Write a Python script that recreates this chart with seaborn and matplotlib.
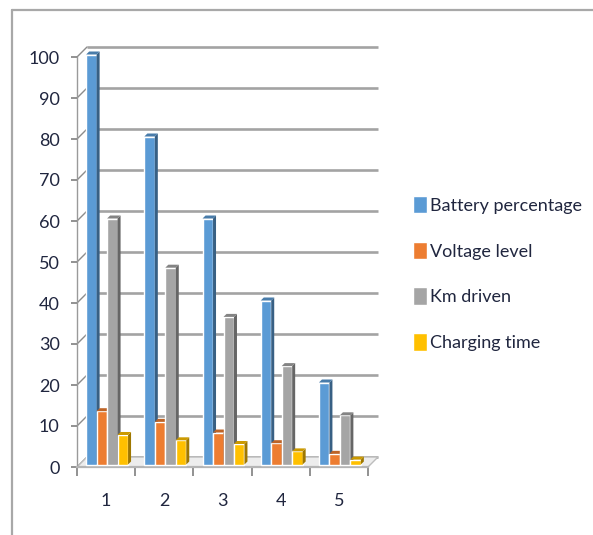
import matplotlib
matplotlib.use("Agg")
import matplotlib.pyplot as plt
import pandas as pd
import seaborn as sns
from matplotlib.colors import to_rgb
from matplotlib.lines import Line2D
from matplotlib.patches import Polygon
from matplotlib.transforms import Affine2D, IdentityTransform

categories = ["1", "2", "3", "4", "5"]
battery = [100, 80, 60, 40, 20]
voltage = [13, 10.4, 7.8, 5.2, 2.6]
km = [60, 48, 36, 24, 12]
charging = [7.2, 5.9, 5, 3.2, 1.2]
series_names = ["Battery percentage", "Voltage level", "Km driven", "Charging time"]
colors = ["#5B9BD5", "#ED7D31", "#A5A5A5", "#FFC000"]
yticks = list(range(0, 101, 10))

W, H = 593, 535
TEXT = "#20263F"
FS = 13
FONT = ["Lato", "DejaVu Sans"]
sns.set_style("white")
plt.rcParams["font.family"] = FONT

df = pd.DataFrame({
    "cat": categories * 4,
    "value": battery + voltage + km + charging,
    "series": [s for s in series_names for _ in categories],
})

fig = plt.figure(figsize=(W / 100, H / 100), dpi=100, facecolor="white")
ax = fig.add_axes([77 / W, 1 - 467 / H, (368 - 77) / W, (467 - 57) / H])
ax.patch.set_alpha(0)

sns.barplot(data=df, x="cat", y="value", hue="series", hue_order=series_names,
            palette=colors, width=0.72, gap=0, saturation=1, ax=ax, zorder=5)
ax.set_xlim(-0.5, 4.5)
ax.set_ylim(0, 100)
ax.set_xlabel("")
ax.set_ylabel("")

# 3-D look: back wall, floor and connecting lines are offsets of the axes scale
DX, DY = 10, 10
back = ax.get_yaxis_transform() + Affine2D().translate(DX, DY)
GRID = "#A3A3A3"
for v in yticks:
    ax.plot([0, 1], [v, v], transform=back, color=GRID, lw=1.9, zorder=1,
            clip_on=False, solid_capstyle="butt")
    p0 = ax.transData.transform((-0.5, v))
    ax.add_line(Line2D([p0[0], p0[0] + DX], [p0[1], p0[1] + DY], transform=IdentityTransform(),
                       color="#8C8C8C", lw=1.0, zorder=1, clip_on=False))

c0 = ax.transData.transform((-0.5, 0))
c1 = ax.transData.transform((4.5, 0))
ax.add_patch(Polygon([c0, c1, c1 + (DX, DY), c0 + (DX, DY)], closed=True, transform=IdentityTransform(),
                     facecolor="#EDEDED", edgecolor="#BDBDBD", lw=1.0, zorder=2, clip_on=False))

# bars stand on the floor: shift them and extrude a side and a top face
SHIFT = (1, 2.5)
SIDE = 3
shift_tr = ax.transData + Affine2D().translate(*SHIFT)
for i, container in enumerate(ax.containers):
    base = to_rgb(colors[i])
    dark = tuple(c * 0.62 for c in base)
    top = tuple(c * 0.8 for c in base)
    for bar in container:
        x0, y0 = bar.get_x(), bar.get_y()
        (px0, py0), (px1, py1) = shift_tr.transform([(x0, y0), (x0 + bar.get_width(), y0 + bar.get_height())])
        bar.set_transform(shift_tr)
        bar.set_zorder(5 + i)
        bar.set_clip_on(False)
        ax.add_patch(Polygon([(px1, py0), (px1 + SIDE, py0 + SIDE), (px1 + SIDE, py1 + SIDE), (px1, py1)],
                             transform=IdentityTransform(), facecolor=dark, edgecolor="none", zorder=5 + i, clip_on=False))
        ax.add_patch(Polygon([(px0, py1), (px1, py1), (px1 + SIDE, py1 + SIDE), (px0 + SIDE, py1 + SIDE)],
                             transform=IdentityTransform(), facecolor=top, edgecolor="none", zorder=5 + i, clip_on=False))

sns.despine(ax=ax, top=True, right=True)
ax.spines["left"].set_color("#9A9A9A")
ax.spines["left"].set_linewidth(1.0)
ax.spines["bottom"].set_linewidth(1.6)
ax.spines["bottom"].set_color("#B5B5B5")

ax.set_yticks(yticks)
ax.tick_params(axis="y", length=4.5, width=1.2, color="#7F7F7F", labelsize=FS, labelcolor=TEXT, pad=8, left=True)
ax.set_xticks(range(5), categories)
ax.tick_params(axis="x", length=0, labelsize=FS, labelcolor=TEXT, pad=19)
ax.set_xticks([i - 0.5 for i in range(6)], minor=True)
ax.tick_params(axis="x", which="minor", length=6.5, width=1.2, color="#7F7F7F", bottom=True)

# legend
handles = ax.get_legend().legend_handles
ax.legend(handles, series_names, loc="center left", bbox_to_anchor=(413 / W, 1 - 273.5 / H),
          bbox_transform=fig.transFigure, frameon=False, fontsize=FS, labelcolor=TEXT,
          handlelength=0.75, handleheight=1.1, handletextpad=0.2, labelspacing=1.55, borderpad=0, borderaxespad=0)

# picture frame: top and left rules
fig.add_artist(Line2D([12 / W, 12 / W], [0, 1 - 10 / H], transform=fig.transFigure, color="#A8A8A8", lw=1.6))
fig.add_artist(Line2D([12 / W, 1], [1 - 10 / H, 1 - 10 / H], transform=fig.transFigure, color="#A8A8A8", lw=1.6))

fig.savefig("out.png", dpi=100)
